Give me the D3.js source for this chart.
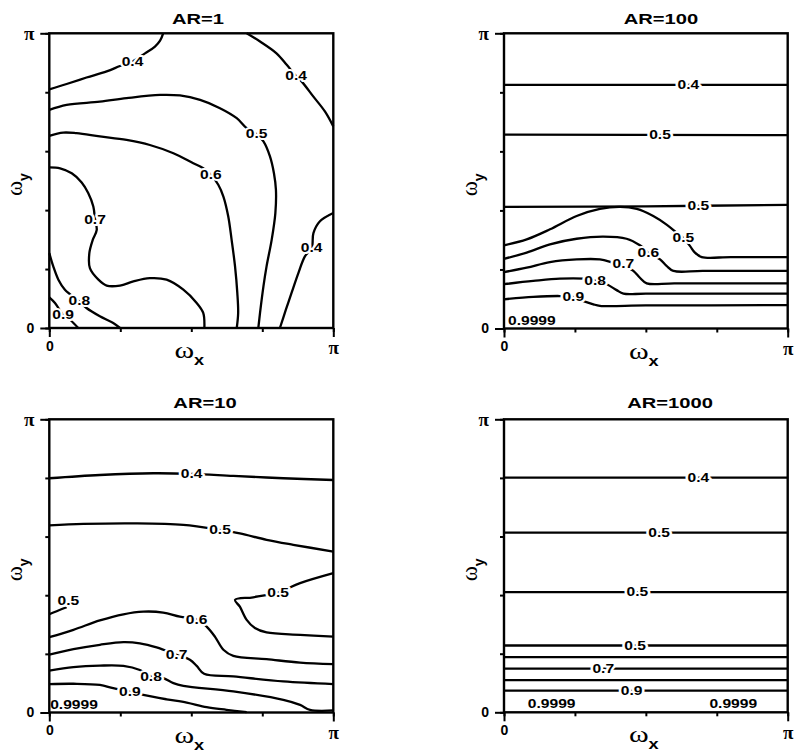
<!DOCTYPE html>
<html>
<head>
<meta charset="utf-8">
<script src="https://cdn.jsdelivr.net/npm/d3@7"></script>
<style>
  body { margin: 0; background: #fff; }
  svg { display: block; }
</style>
</head>
<body>
<div id="chart"></div>
<script>
// values are omega/pi, so both axes run 0..1 (0..pi)
const xTicks = [0, 0.25, 0.5, 0.75, 1];
const yTicks = [0, 0.2, 0.4, 0.6, 0.8, 1];
const titles = ["AR=1", "AR=100", "AR=10", "AR=1000"];

const ar1Lines = [
  { level: "0.4", pts: [[0,0.810],[0.061,0.828],[0.131,0.850],[0.202,0.871],[0.249,0.889],[0.296,0.906],[0.337,0.932],[0.372,0.955],[0.390,0.975],[0.401,1]] },
  { level: "0.4", pts: [[0.695,1],[0.742,0.972],[0.800,0.932],[0.836,0.893],[0.869,0.855],[0.889,0.836],[0.930,0.785],[0.971,0.734],[1,0.684]] },
  { level: "0.5", pts: [[0,0.740],[0.061,0.757],[0.178,0.768],[0.272,0.780],[0.390,0.791],[0.460,0.789],[0.531,0.774],[0.601,0.746],[0.660,0.712],[0.695,0.678],[0.730,0.658],[0.754,0.633],[0.777,0.582],[0.791,0.525],[0.798,0.469],[0.796,0.390],[0.783,0.299],[0.765,0.209],[0.754,0.141],[0.742,0.051],[0.736,0]] },
  { level: "0.6", pts: [[0,0.652],[0.049,0.663],[0.096,0.661],[0.178,0.650],[0.272,0.638],[0.354,0.621],[0.437,0.593],[0.507,0.559],[0.542,0.542],[0.569,0.520],[0.595,0.486],[0.613,0.446],[0.630,0.379],[0.642,0.299],[0.654,0.209],[0.662,0.119],[0.665,0.051],[0.660,0]] },
  { level: "0.7", pts: [[0,0.545],[0.038,0.542],[0.079,0.525],[0.114,0.494],[0.137,0.458],[0.155,0.412],[0.161,0.369],[0.167,0.333],[0.153,0.299],[0.141,0.254],[0.143,0.203],[0.173,0.164],[0.202,0.144],[0.249,0.144],[0.296,0.158],[0.354,0.169],[0.413,0.164],[0.472,0.130],[0.519,0.085],[0.542,0.051],[0.546,0]] },
  { level: "0.4", pts: [[1,0.390],[0.953,0.362],[0.930,0.322],[0.924,0.271],[0.900,0.243],[0.877,0.186],[0.853,0.119],[0.833,0.062],[0.812,0]] },
  { level: "0.8", pts: [[0,0.254],[0.014,0.209],[0.032,0.164],[0.055,0.130],[0.106,0.090],[0.131,0.068],[0.178,0.040],[0.225,0.017],[0.249,0]] },
  { level: "0.9", pts: [[0,0.104],[0.020,0.085],[0.049,0.045],[0.073,0.028],[0.102,0]] }
];
const ar1Labels = [[0.293,0.904,"0.4"],[0.869,0.855,"0.4"],[0.730,0.658,"0.5"],[0.569,0.520,"0.6"],
  [0.161,0.369,"0.7"],[0.924,0.271,"0.4"],[0.106,0.092,"0.8"],[0.049,0.045,"0.9"]];

const ar100Lines = [
  { level: "0.4", pts: [[0,0.825],[1,0.825]] },
  { level: "0.5", pts: [[0,0.657],[1,0.655]] },
  { level: "0.5", pts: [[0,0.412],[0.5,0.414],[1,0.419]] },
  { level: "0.5", pts: [[0,0.282],[0.080,0.302],[0.162,0.336],[0.256,0.381],[0.338,0.405],[0.409,0.412],[0.468,0.405],[0.526,0.381],[0.573,0.352],[0.609,0.324],[0.632,0.307],[0.656,0.279],[0.673,0.257],[0.697,0.242],[0.8,0.242],[1,0.242]] },
  { level: "0.6", pts: [[0,0.236],[0.080,0.257],[0.162,0.285],[0.256,0.304],[0.350,0.311],[0.432,0.304],[0.479,0.282],[0.509,0.257],[0.550,0.234],[0.573,0.212],[0.597,0.195],[0.7,0.195],[1,0.195]] },
  { level: "0.7", pts: [[0,0.191],[0.080,0.206],[0.162,0.225],[0.256,0.234],[0.338,0.234],[0.385,0.223],[0.421,0.214],[0.456,0.195],[0.479,0.172],[0.503,0.153],[0.6,0.153],[1,0.153]] },
  { level: "0.8", pts: [[0,0.150],[0.103,0.161],[0.197,0.169],[0.280,0.169],[0.321,0.163],[0.362,0.150],[0.397,0.130],[0.421,0.118],[0.5,0.118],[1,0.118]] },
  { level: "0.9", pts: [[0,0.099],[0.103,0.107],[0.197,0.110],[0.244,0.107],[0.280,0.093],[0.315,0.082],[0.338,0.077],[0.5,0.078],[1,0.079]] }
];
const ar100Labels = [[0.650,0.825,"0.4"],[0.550,0.656,"0.5"],[0.685,0.416,"0.5"],[0.632,0.307,"0.5"],
  [0.509,0.257,"0.6"],[0.421,0.220,"0.7"],[0.321,0.163,"0.8"],[0.244,0.107,"0.9"],[0.098,0.026,"0.9999"]];

const ar10Lines = [
  { level: "0.4", pts: [[0,0.799],[0.178,0.810],[0.366,0.816],[0.501,0.814],[0.648,0.807],[0.824,0.799],[1,0.793]] },
  { level: "0.5", pts: [[0,0.638],[0.120,0.643],[0.296,0.645],[0.472,0.640],[0.601,0.623],[0.671,0.611],[0.765,0.589],[0.859,0.572],[1,0.549]] },
  { level: "0.5", pts: [[0,0.335],[0.032,0.348],[0.061,0.359]] },
  { level: "0.5", pts: [[1,0.475],[0.883,0.441],[0.806,0.410],[0.718,0.393],[0.654,0.384],[0.671,0.361],[0.695,0.316],[0.724,0.288],[0.765,0.273],[0.883,0.265],[1,0.259]] },
  { level: "0.6", pts: [[0,0.257],[0.085,0.282],[0.178,0.314],[0.261,0.335],[0.331,0.344],[0.401,0.341],[0.460,0.327],[0.519,0.318],[0.554,0.293],[0.583,0.259],[0.613,0.214],[0.648,0.193],[0.765,0.182],[0.883,0.170],[1,0.165]] },
  { level: "0.7", pts: [[0,0.197],[0.085,0.216],[0.178,0.231],[0.261,0.240],[0.319,0.236],[0.378,0.222],[0.448,0.197],[0.495,0.180],[0.519,0.159],[0.545,0.132],[0.648,0.123],[0.824,0.106],[1,0.097]] },
  { level: "0.8", pts: [[0,0.143],[0.085,0.155],[0.178,0.160],[0.261,0.159],[0.319,0.145],[0.358,0.123],[0.401,0.117],[0.437,0.100],[0.472,0.091],[0.648,0.072],[0.824,0.043],[0.883,0.026],[0.918,0.009],[1,0.007]] },
  { level: "0.9", pts: [[0,0.097],[0.085,0.098],[0.178,0.094],[0.225,0.083],[0.284,0.072],[0.331,0.060],[0.413,0.045],[0.484,0.034],[0.554,0.018],[0.624,0.009],[0.695,0.001]] }
];
const ar10Labels = [[0.501,0.814,"0.4"],[0.601,0.623,"0.5"],[0.067,0.380,"0.5"],[0.806,0.407,"0.5"],
  [0.519,0.318,"0.6"],[0.448,0.197,"0.7"],[0.358,0.123,"0.8"],[0.284,0.072,"0.9"],[0.087,0.026,"0.9999"]];

const ar1000Levels = [0.801, 0.613, 0.410, 0.228, 0.188, 0.149, 0.110, 0.074];
const ar1000Lines = ar1000Levels.map(v => ({ pts: [[0, v], [1, v]] }));
const ar1000Labels = [[0.685,0.801,"0.4"],[0.547,0.613,"0.5"],[0.470,0.410,"0.5"],[0.462,0.228,"0.5"],
  [0.350,0.149,"0.7"],[0.450,0.074,"0.9"],[0.168,0.031,"0.9999"],[0.808,0.031,"0.9999"]];

const panels = [
  { title: titles[0], lines: ar1Lines, labels: ar1Labels, box: [49.3, 33.3, 333.3, 328], titleX: 198, titleY: 24 },
  { title: titles[1], lines: ar100Lines, labels: ar100Labels, box: [504, 33.3, 787.7, 328.5], titleX: 661, titleY: 24 },
  { title: titles[2], lines: ar10Lines, labels: ar10Labels, box: [49.3, 419.3, 333.3, 712.5], titleX: 205, titleY: 408 },
  { title: titles[3], lines: ar1000Lines, labels: ar1000Labels, box: [504, 419.3, 787.7, 712.3], titleX: 670, titleY: 408 }
];

const W = 797, H = 756;
const STRETCH = 1.3;   // the scan is wider than it is tall
const sans = "'Liberation Sans', Arial, sans-serif";
const serif = "'Liberation Serif', 'Times New Roman', serif";

const svg = d3.select("#chart").append("svg").attr("width", W).attr("height", H);

function wideText(g, x, y, txt, size, family, anchor) {
  return g.append("text")
    .attr("transform", `translate(${x},${y}) scale(${STRETCH},1)`)
    .attr("text-anchor", anchor || "middle")
    .style("font-family", family || sans)
    .style("font-size", size + "px")
    .style("font-weight", "bold")
    .text(txt);
}

panels.forEach(p => {
  const [x0, y0, x1, y1] = p.box;
  const x = d3.scaleLinear().domain([0, 1]).range([x0, x1]);
  const y = d3.scaleLinear().domain([0, 1]).range([y1, y0]);
  const g = svg.append("g");

  wideText(g, p.titleX, p.titleY, p.title, 15.5);

  // contour lines
  const line = d3.line().x(d => x(d[0])).y(d => y(d[1])).curve(d3.curveCatmullRom.alpha(0.5));
  g.append("g").selectAll("path").data(p.lines).enter().append("path")
    .attr("d", d => line(d.pts))
    .attr("fill", "none")
    .attr("stroke", "#000")
    .attr("stroke-width", 2.3)
    .attr("stroke-linejoin", "round");

  // inline labels with a white halo that breaks the line
  p.labels.forEach(l => {
    wideText(g, x(l[0]), y(l[1]) + 4.3, l[2], 12)
      .attr("stroke", "#fff").attr("stroke-width", 4)
      .attr("paint-order", "stroke").attr("stroke-linejoin", "round");
  });

  // frame
  g.append("rect").attr("x", x0).attr("y", y0).attr("width", x1 - x0).attr("height", y1 - y0)
    .attr("fill", "none").attr("stroke", "#000").attr("stroke-width", 2.4);

  // axes: minor ticks then labelled end ticks
  const axisStyle = sel => {
    sel.select(".domain").remove();
    sel.selectAll("line").attr("stroke", "#000").attr("stroke-width", 2);
  };
  g.append("g").attr("transform", `translate(${x0},0)`)
    .call(d3.axisLeft(y).tickValues(yTicks).tickSize(4).tickFormat(""))
    .call(axisStyle);
  g.append("g").attr("transform", `translate(0,${y1})`)
    .call(d3.axisBottom(x).tickValues(xTicks).tickSize(4).tickFormat(""))
    .call(axisStyle);

  const yEnds = g.append("g").attr("transform", `translate(${x0},0)`)
    .call(d3.axisLeft(y).tickValues([0, 1]).tickSize(9).tickPadding(6).tickFormat(d => d ? "π" : "0"))
    .call(axisStyle);
  const xEnds = g.append("g").attr("transform", `translate(0,${y1})`)
    .call(d3.axisBottom(x).tickValues([0, 1]).tickSize(9).tickPadding(4).tickFormat(d => d ? "π" : "0"))
    .call(axisStyle);
  [yEnds, xEnds].forEach(a => a.selectAll("text")
    .attr("fill", "#000")
    .style("font-weight", "bold")
    .style("font-family", d => d ? serif : sans)
    .style("font-size", d => d ? "19px" : "14px"));

  // axis titles
  const cx = (x0 + x1) / 2, cy = (y0 + y1) / 2;
  const xl = g.append("text").attr("transform", `translate(${cx - 2},${y1 + 30}) scale(${STRETCH},1)`)
    .attr("text-anchor", "middle");
  xl.append("tspan").style("font-family", serif).style("font-size", "23px").text("ω");
  xl.append("tspan").attr("dy", 7).style("font-family", sans).style("font-weight", "bold")
    .style("font-size", "14px").text("x");

  const yl = g.append("text")
    .attr("transform", `translate(${x0 - 27},${cy + 4}) rotate(-90)`)
    .attr("text-anchor", "middle");
  yl.append("tspan").style("font-family", serif).style("font-size", "23px").text("ω");
  yl.append("tspan").attr("dy", 7).style("font-family", sans).style("font-weight", "bold")
    .style("font-size", "14px").text("y");
});
</script>
</body>
</html>
